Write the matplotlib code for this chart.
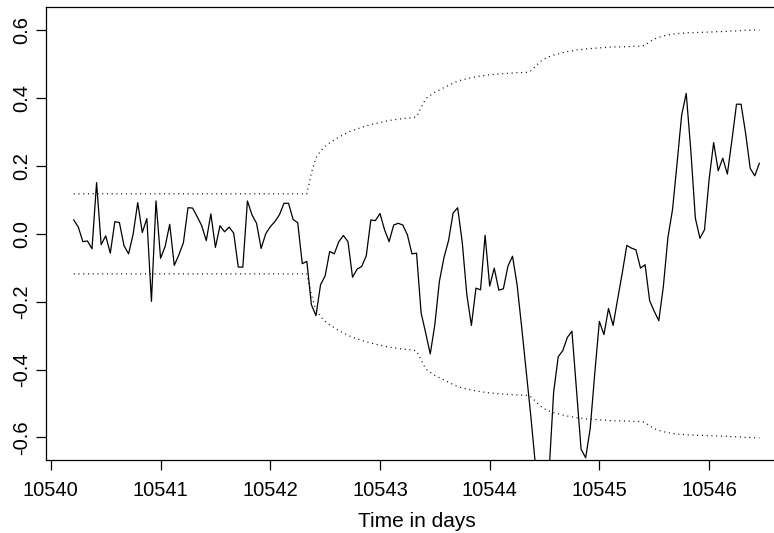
import numpy as np
import matplotlib
matplotlib.use("Agg")
import matplotlib.pyplot as plt

plt.rcParams['font.family'] = ['Liberation Sans', 'DejaVu Sans']

# Hourly residual series, starting 5 hours into day 10540
start_day = 10540
first_hour = 5

residual = [
    0.041, 0.020, -0.023, -0.021, -0.044, 0.151, -0.032, -0.006, -0.057, 0.036,
    0.033, -0.035, -0.059, -0.001, 0.092, 0.004, 0.045, -0.199, 0.097, -0.072,
    -0.037, 0.028, -0.093, -0.062, -0.026, 0.077, 0.076, 0.051, 0.024, -0.020,
    0.059, -0.040, 0.024, 0.006, 0.020, 0.002, -0.098, -0.098, 0.097, 0.056,
    0.031, -0.043, 0.000, 0.021, 0.036, 0.056, 0.090, 0.090, 0.042, 0.033,
    -0.088, -0.081, -0.209, -0.241, -0.150, -0.124, -0.052, -0.059, -0.023, -0.005,
    -0.023, -0.128, -0.104, -0.096, -0.065, 0.041, 0.039, 0.060, 0.012, -0.023,
    0.026, 0.031, 0.026, -0.003, -0.059, -0.057, -0.233, -0.292, -0.354, -0.268,
    -0.140, -0.070, -0.020, 0.061, 0.077, -0.025, -0.179, -0.270, -0.160, -0.165,
    -0.004, -0.154, -0.101, -0.166, -0.162, -0.095, -0.066, -0.150, -0.275, -0.405,
    -0.537, -0.680, -0.800, -0.820, -0.700, -0.466, -0.362, -0.344, -0.305, -0.287,
    -0.460, -0.635, -0.660, -0.573, -0.410, -0.258, -0.297, -0.220, -0.270, -0.192,
    -0.116, -0.034, -0.042, -0.047, -0.101, -0.091, -0.197, -0.228, -0.256, -0.155,
    -0.010, 0.071, 0.208, 0.350, 0.414, 0.247, 0.046, -0.013, 0.012, 0.159,
    0.269, 0.186, 0.223, 0.176, 0.276, 0.382, 0.382, 0.296, 0.193, 0.171,
    0.208,
]

# Half-width of the tolerance band around zero
band = [0.118] * 52 + [
    0.180, 0.224, 0.244, 0.258, 0.268, 0.277, 0.285, 0.292, 0.299, 0.305,
    0.309, 0.314, 0.318, 0.322, 0.325, 0.328, 0.331, 0.334, 0.336, 0.338,
    0.340, 0.341, 0.342, 0.345, 0.372, 0.398, 0.408, 0.417, 0.424, 0.431,
    0.437, 0.444, 0.450, 0.454, 0.457, 0.460, 0.463, 0.465, 0.467, 0.469,
    0.470, 0.471, 0.472, 0.473, 0.474, 0.475, 0.475, 0.476, 0.480, 0.493,
    0.507, 0.516, 0.522, 0.527, 0.530, 0.534, 0.537, 0.539, 0.542, 0.543,
    0.545, 0.546, 0.547, 0.548, 0.549, 0.550, 0.551, 0.551, 0.551, 0.552,
    0.552, 0.553, 0.553, 0.556, 0.566, 0.574, 0.579, 0.583, 0.586, 0.588,
    0.590, 0.591, 0.592, 0.593, 0.593, 0.594, 0.594, 0.595, 0.595, 0.596,
    0.596, 0.597, 0.598, 0.598, 0.599, 0.600, 0.600, 0.601, 0.601,
]

x_ticks = [10540, 10541, 10542, 10543, 10544, 10545, 10546]
y_ticks = [-0.6, -0.4, -0.2, 0.0, 0.2, 0.4, 0.6]
y_tick_labels = ["-0.6", "-0.4", "-0.2", "0.0", "0.2", "0.4", "0.6"]

hours = first_hour + np.arange(len(residual))
time_days = start_day + hours / 24.0
band = np.array(band)

W, H = 774, 533
fig = plt.figure(figsize=(W / 100, H / 100), dpi=100)

# R-style 4% padding on the time axis
span = time_days[-1] - time_days[0]
xlim = (time_days[0] - 0.04 * span, time_days[-1] + 0.04 * span)
px_per_day = 109.7
left_px = 46.3
width_px = (xlim[1] - xlim[0]) * px_per_day
ax = fig.add_axes([left_px / W, 73 / H, width_px / W, 453 / H])

dotted = (0, (0.8, 3.0))
ax.plot(time_days, band, color='black', lw=0.9, linestyle=dotted)
ax.plot(time_days, -band, color='black', lw=0.9, linestyle=dotted)
ax.plot(time_days, residual, color='black', lw=0.9)

ax.set_xlim(xlim)
ax.set_ylim(-0.6665, 0.6685)

ax.set_xticks(x_ticks)
ax.set_xticklabels([str(t) for t in x_ticks])
ax.set_yticks(y_ticks)
ax.set_yticklabels(y_tick_labels, rotation=90, va='center')

ax.tick_params(direction='out', length=7, width=0.9, labelsize=14.5, colors='black')
ax.tick_params(axis='x', pad=8)
ax.tick_params(axis='y', pad=4)
for side in ['left', 'bottom', 'top', 'right']:
    ax.spines[side].set_linewidth(0.9)
    ax.spines[side].set_color('black')

ax.set_xlabel('Time in days', fontsize=15, labelpad=9)

fig.savefig('out.png', dpi=100)
